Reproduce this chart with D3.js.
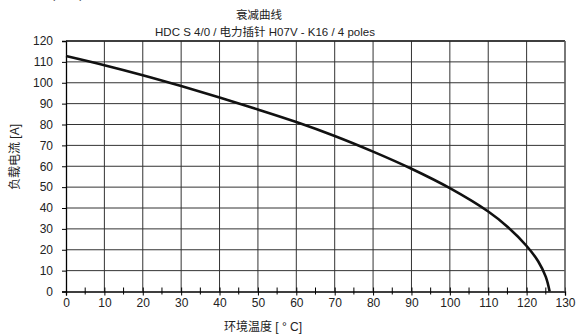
<!DOCTYPE html>
<html><head><meta charset="utf-8">
<script src="https://cdn.jsdelivr.net/npm/d3@7"></script>
<style>body{margin:0;background:#fff}svg{display:block}text{font-family:"Liberation Sans",Arial,"Noto Sans CJK SC",sans-serif}</style>
</head><body>
<script>
const temps = [0,10,20,30,40,50,60,70,80,90,100,110,115,120,123,125,126];
const current = [112.8,108.4,103.6,98.4,92.9,87.2,81.2,74.5,67,58.8,49.5,38.3,31,21.8,14.5,7,0];
const xTicks = d3.range(0,131,10);
const xMinor = d3.range(5,131,10);
const yTicks = d3.range(0,121,10);
const title1 = "衰减曲线";
const title2 = "HDC S 4/0 / 电力插针 H07V - K16 / 4 poles";
const xLabel = "环境温度 [ ° C]";
const yLabel = "负载电流 [A]";

const W=577,H=335;
const svg=d3.select("body").append("svg").attr("width",W).attr("height",H);
const x=d3.scaleLinear().domain([0,130]).range([66,565]);
const y=d3.scaleLinear().domain([0,120]).range([291.5,41]);

// cut top-left fragment (mostly outside the view, as in the reference)
svg.append("text").attr("x",0).attr("y",-2).attr("font-size",12).attr("fill","#444").text("降额曲线 (参考)");

// grid
svg.append("g").selectAll("line").data(xTicks.slice(1)).join("line")
 .attr("x1",d=>x(d)).attr("x2",d=>x(d)).attr("y1",y(0)).attr("y2",y(120))
 .attr("stroke","#333").attr("stroke-width",1);
svg.append("g").selectAll("line").data(yTicks.slice(1)).join("line")
 .attr("x1",x(0)).attr("x2",x(130)).attr("y1",d=>y(d)).attr("y2",d=>y(d))
 .attr("stroke","#333").attr("stroke-width",1);

// axes
const xAxis=svg.append("g").attr("transform",`translate(0,${y(0)})`)
 .call(d3.axisBottom(x).tickValues(xTicks).tickSize(4).tickPadding(3).tickFormat(d3.format("d")));
xAxis.select(".domain").attr("stroke","#000").attr("stroke-width",1.3);
xAxis.selectAll("text").attr("font-size",12).attr("fill","#222");
svg.append("g").selectAll("line").data(xMinor).join("line")
 .attr("x1",d=>x(d)).attr("x2",d=>x(d)).attr("y1",y(0)-4).attr("y2",y(0)+3)
 .attr("stroke","#000");
xAxis.selectAll(".tick line").attr("y1",-4);

const yAxis=svg.append("g").attr("transform",`translate(${x(0)},0)`)
 .call(d3.axisLeft(y).tickValues(yTicks).tickSize(4).tickPadding(9).tickFormat(d3.format("d")));
yAxis.select(".domain").attr("stroke","#000").attr("stroke-width",1.3);
yAxis.selectAll("text").attr("font-size",12).attr("fill","#222");

// frame top/right
svg.append("line").attr("x1",x(0)).attr("x2",x(130)).attr("y1",y(120)).attr("y2",y(120)).attr("stroke","#222").attr("stroke-width",1.3);
svg.append("line").attr("x1",x(130)).attr("x2",x(130)).attr("y1",y(120)).attr("y2",y(0)).attr("stroke","#666").attr("stroke-width",1.3);

// curve
const line=d3.line().x((d,i)=>x(temps[i])).y(d=>y(d)).curve(d3.curveCatmullRom.alpha(0.5));
svg.append("path").datum(current).attr("d",line).attr("fill","none").attr("stroke","#111").attr("stroke-width",2.6);

// titles
svg.append("text").attr("x",259).attr("y",19).attr("text-anchor","middle").attr("font-size",11.5).attr("fill","#222").text(title1);
svg.append("text").attr("x",265).attr("y",36).attr("text-anchor","middle").attr("font-size",11.5).attr("fill","#222").text(title2);
svg.append("text").attr("x",263).attr("y",331).attr("text-anchor","middle").attr("font-size",12).attr("fill","#222").text(xLabel);
svg.append("text").attr("transform","translate(19,157) rotate(-90)").attr("text-anchor","middle").attr("font-size",12).attr("fill","#222").text(yLabel);
</script>
</body></html>
